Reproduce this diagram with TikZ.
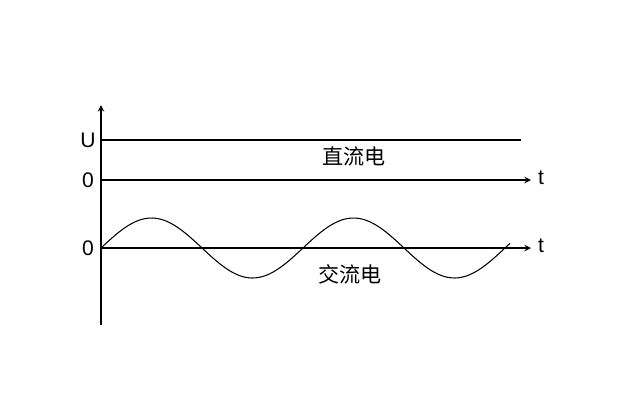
\documentclass[tikz,border=0pt]{standalone}
\usepackage{fontspec}
\setmainfont{Liberation Sans}
\newfontfamily\cjk{Noto Sans CJK SC}
\begin{document}
\begin{tikzpicture}[x=0.02cm, y=-0.02cm, line width=0.7pt,
  axislabel/.style={font=\large, anchor=center},
  hanzi/.style={font=\cjk\large, anchor=center}]
\useasboundingbox (0,0) rectangle (640,416);

% Axes
\coordinate (origin) at (101,325);
\coordinate (top) at (101,105);
\draw[-stealth] (origin) -- (top);
\coordinate (dcleft) at (101,180);
\coordinate (dcright) at (531,180);
\draw[-stealth] (dcleft) -- (dcright);
\coordinate (acleft) at (101,248);
\coordinate (acright) at (531,248);
\draw[-stealth] (acleft) -- (acright);

% Direct current level
\coordinate (uleft) at (101,140);
\coordinate (uright) at (521,140);
\draw (uleft) -- (uright);

% Alternating current
\draw[line width=0.6pt] plot[domain=0:409, samples=120, smooth] ({101+\x}, {248-30*sin(\x*1.7822)});

% Labels
\node[axislabel] (ulabel) at (88,140) {U};
\node[axislabel] (dczero) at (88,180) {0};
\node[axislabel] (aczero) at (88,248) {0};
\node[axislabel] (dct) at (541,178) {t};
\node[axislabel] (act) at (541,246) {t};
\node[hanzi] (dc) at (354,156) {直流电};
\node[hanzi] (ac) at (350,274) {交流电};
\end{tikzpicture}
\end{document}
